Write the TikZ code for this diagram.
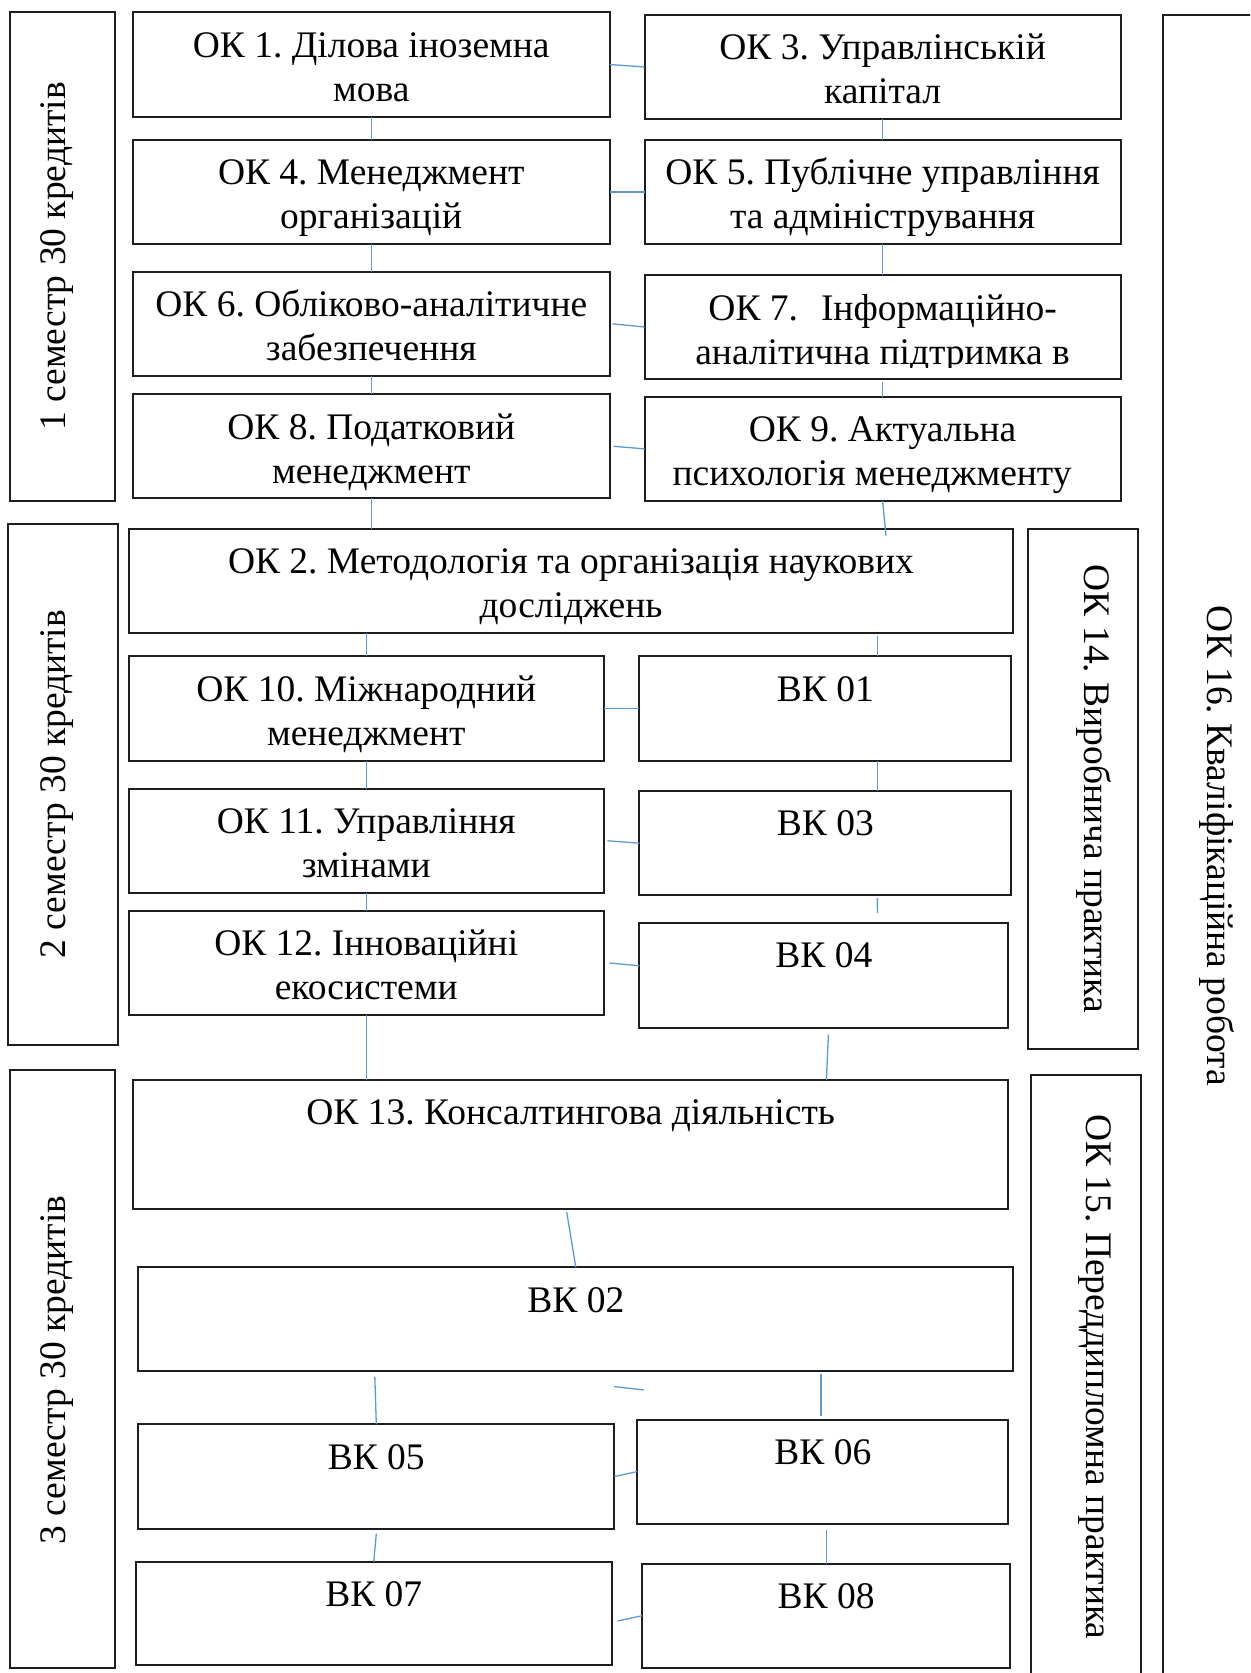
\documentclass[tikz,border=0pt]{standalone}
\usepackage{fontspec}
\setmainfont{Liberation Serif}
\usetikzlibrary{calc}
\definecolor{connblue}{HTML}{5B9BD5}
\definecolor{brd}{HTML}{1E1E1E}
\frenchspacing
\tikzset{
  boxst/.style={draw=brd, line width=1pt, inner sep=0pt, outer sep=0pt,
    font=\fontsize{18.75}{22}\selectfont\frenchspacing},
  link/.style={draw=connblue, line width=0.65pt},
  vtext/.style={font=\fontsize{18.75}{22}\selectfont\frenchspacing, inner sep=0pt, anchor=base},
}
\newcommand\bxt[3]{\parbox[c][#2pt][t]{#1pt}{\centering\rule{0pt}{22.4pt}#3}}
\newcommand\mkbox[6]{%
  \pgfmathsetmacro\bw{(#4-#2)*0.5}%
  \pgfmathsetmacro\bh{(#5-#3)*0.5}%
  \node[boxst, minimum width=\bw pt, minimum height=\bh pt] (#1)
    at ({(#2+#4)/2},{(#3+#5)/2}) {\bxt{\bw}{\bh}{#6}};%
}
\begin{document}
\begin{tikzpicture}[x=0.5pt, y=-0.5pt]
\useasboundingbox (0,0) rectangle (1250,1673);
\clip (0,0) rectangle (1250,1673);

% semester frames
\mkbox{sem1}{10.4}{12.3}{115.3}{500.7}{}
\mkbox{sem2}{8.3}{524}{118.2}{1044.6}{}
\mkbox{sem3}{10.4}{1069.9}{115.3}{1667.8}{}
\node[vtext, rotate=90] (sem1t) at (65,256.5) {1 семестр 30 кредитів};
\node[vtext, rotate=90] (sem2t) at (65,784.3) {2 семестр 30 кредитів};
\node[vtext, rotate=90] (sem3t) at (65,1370) {3 семестр 30 кредитів};

% semester 1
\mkbox{ok1}{133}{12.3}{609.5}{116.7}{ОК 1. Ділова іноземна\\мова}
\mkbox{ok3}{644.5}{15}{1120.7}{119}{ОК 3. Управлінській\\капітал}
\mkbox{ok4}{133}{140}{609.5}{244.3}{ОК 4. Менеджмент\\організацій}
\mkbox{ok5}{644.5}{140}{1120.7}{244.3}{ОК 5. Публічне управління\\та адміністрування}
\mkbox{ok6}{133}{271.7}{609.5}{376}{ОК 6. Обліково-аналітичне\\забезпечення}
\mkbox{ok7}{644.5}{275}{1120.7}{379}{}
\begin{scope}
  \clip (644.5,275) rectangle (1120.7,368);
  \node[inner sep=0pt, anchor=north, font=\fontsize{18.75}{22}\selectfont\frenchspacing] (ok7t) at (882.6,275)
    {\bxt{238.1}{52}{ОК 7.\hspace{11.5pt}Інформаційно-\\аналітична підтримка в}};
\end{scope}
\mkbox{ok8}{133}{394.3}{609.5}{498.3}{ОК 8. Податковий\\менеджмент}
\mkbox{ok9}{644.5}{396.7}{1120.7}{501}{ОК 9. Актуальна\\психологія менеджменту\hspace*{10.5pt}}

% semester 2
\mkbox{ok2}{128.5}{528.6}{1013.4}{633}{ОК 2. Методологія та організація наукових\\досліджень}
\mkbox{ok10}{128.5}{656.4}{604}{760.7}{ОК 10. Міжнародний\\менеджмент}
\mkbox{ok11}{128.5}{788.6}{604}{892.9}{ОК 11. Управління\\змінами}
\mkbox{ok12}{128.5}{911}{604}{1015}{ОК 12. Інноваційні\\екосистеми}
\mkbox{bk01}{639.4}{656.4}{1011.3}{760.7}{ВК 01}
\mkbox{bk03}{639.4}{791}{1011.3}{895.4}{ВК 03}
\mkbox{bk04}{639.4}{923}{1008.4}{1027.5}{ВК 04}

% semester 3
\mkbox{ok13}{133}{1079.8}{1008.4}{1209}{ОК 13. Консалтингова діяльність}
\mkbox{bk02}{138.2}{1267.3}{1013.4}{1371}{ВК 02}
\mkbox{bk05}{138.2}{1424.3}{614.4}{1528.7}{ВК 05}
\mkbox{bk06}{637.3}{1419.5}{1008.4}{1523.6}{ВК 06}
\mkbox{bk07}{136}{1561.7}{611.5}{1665}{ВК 07}
\mkbox{bk08}{641.9}{1563.7}{1010.4}{1667.8}{ВК 08}

% practice and final work
\mkbox{ok14}{1028.3}{528.6}{1138}{1049.3}{}
\mkbox{ok15}{1031}{1075}{1141}{1679}{}
\mkbox{ok16}{1162.6}{15}{1262}{1679}{}
\node[vtext, rotate=-90] (ok14t) at (1084,789) {ОК 14. Виробнича практика};
\node[vtext, rotate=-90] (ok15t) at (1086,1377) {ОК 15. Переддипломна практика};
\node[vtext, rotate=-90] (ok16t) at (1207,846) {ОК 16. Кваліфікаційна робота};

% connectors, semester 1
\draw[link] (ok1.east) -- (ok3.west);
\draw[link] (ok4.east) -- (ok5.west);
\draw[link] ($(ok6.east)+(3,0)$) -- (ok7.west);
\draw[link] ($(ok8.east)+(4,0)$) -- (ok9.west);
\draw[link] (ok1.south) -- (ok4.north);
\draw[link] (ok4.south) -- (ok6.north);
\draw[link] (ok6.south) -- (ok8.north);
\draw[link] (ok8.south) -- (ok8.south |- ok2.north);
\draw[link] (ok3.south) -- (ok5.north);
\draw[link] (ok5.south) -- (ok7.north);
\draw[link] ($(ok7.south)+(0,2.7)$) -- (ok9.north);
\draw[link] (ok9.south) -- ($(ok9.south |- ok2.north)+(3.4,7)$);

% connectors, semester 2
\draw[link] (ok10.north |- ok2.south) -- (ok10.north);
\draw[link] ($(bk01.north |- ok2.south)+(52,3)$) -- ($(bk01.north)+(52,0)$);
\draw[link] (ok10.east) -- (bk01.west);
\draw[link] (ok10.south) -- (ok11.north);
\draw[link] ($(bk01.south)+(52,0)$) -- ($(bk03.north)+(52,0)$);
\draw[link] ($(ok11.east)+(3.4,0)$) -- (bk03.west);
\draw[link] (ok11.south) -- (ok12.north);
\draw[link] ($(bk03.south)+(52,2.6)$) -- ($(bk04.north)+(53.5,-10)$);
\draw[link] ($(ok12.east)+(5.5,0)$) -- ($(bk04.west)+(0,-9.5)$);
\draw[link] (ok12.south) -- (ok12.south |- ok13.north);
\draw[link] ($(bk04.south)+(4.5,7)$) -- ($(bk04.south |- ok13.north)+(2.5,0)$);

% connectors, semester 3
\draw[link] ($(ok13.south)+(-4,3)$) -- (bk02.north);
\draw[link] ($(bk05.north |- bk02.south)+(-1.5,5.6)$) -- (bk05.north);
\draw[link] ($(bk06.north |- bk02.south)+(-1.8,3)$) -- ($(bk06.north)+(-1.8,-4)$);
\coordinate (s1) at (614,1386.5);
\coordinate (s2) at (644,1390);
\draw[link] (s1) -- (s2);
\draw[link] (bk05.east) -- (bk06.west);
\draw[link] ($(bk05.south)+(0,5)$) -- (bk07.north);
\draw[link] ($(bk07.east)+(6,7.6)$) -- (bk08.west);
\draw[link] ($(bk08.north |- bk06.south)+(0,6)$) -- (bk08.north);
\end{tikzpicture}
\end{document}
